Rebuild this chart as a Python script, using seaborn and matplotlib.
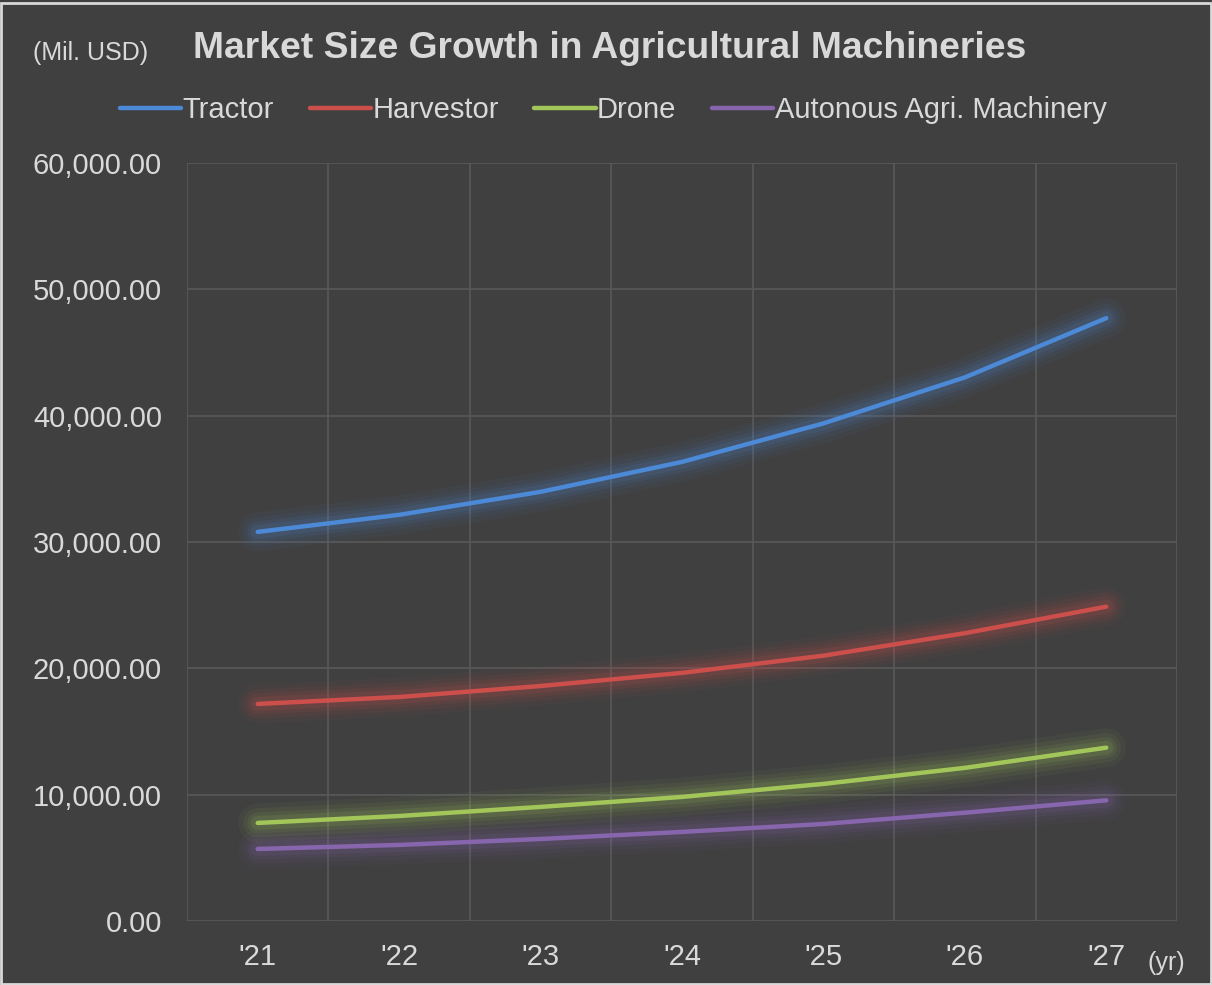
import matplotlib
matplotlib.use("Agg")
import matplotlib.pyplot as plt
import seaborn as sns
import pandas as pd
import numpy as np

# data (Mil. USD)
years = ["'21", "'22", "'23", "'24", "'25", "'26", "'27"]
tractor = [30800, 32150, 33970, 36340, 39390, 43030, 47720]
harvestor = [17180, 17730, 18600, 19640, 21000, 22780, 24880]
drone = [7760, 8310, 9030, 9820, 10850, 12120, 13720]
autonomous = [5700, 6020, 6490, 7050, 7680, 8570, 9550]

series = ["Tractor", "Harvestor", "Drone", "Autonous Agri. Machinery"]
colors = ["#4c89d6", "#cc4f4c", "#a2c659", "#8766ad"]

df = pd.DataFrame({
    "idx": list(range(len(years))) * 4,
    "value": tractor + harvestor + drone + autonomous,
    "series": [s for s in series for _ in years],
})

bg = "#404040"
txt = "#d9d9d9"

sns.set_theme(style="dark")
plt.rcParams["font.family"] = ["Liberation Sans", "DejaVu Sans"]

fig = plt.figure(figsize=(12.12, 9.85), dpi=100, facecolor=bg)
ax = fig.add_axes([0.1543, 0.065, 0.8168, 0.7695])
ax.set_facecolor(bg)

# glow underneath the lines
for s, c in zip(series, colors):
    sub = df[df["series"] == s]
    for lw, a in [(28, 0.05), (21, 0.07), (15, 0.09), (10, 0.12)]:
        ax.plot(sub["idx"], sub["value"], color=c, lw=lw, alpha=a,
                solid_capstyle="round", solid_joinstyle="round", zorder=2)

sns.lineplot(data=df, x="idx", y="value", hue="series", hue_order=series,
             palette=colors, linewidth=3.2, ax=ax, legend=False, zorder=3)
for ln in ax.get_lines():
    ln.set_solid_capstyle("round")

ax.set_xlim(-0.5, len(years) - 0.5)
ax.set_ylim(0, 60000)
ax.set_yticks(np.arange(0, 60001, 10000))
ax.set_yticklabels([f"{v:,.2f}" for v in np.arange(0, 60001, 10000)])
ax.set_xticks(range(len(years)))
ax.set_xticklabels(years)
ax.set_xticks(np.arange(-0.5, len(years), 1), minor=True)
ax.grid(False)
ax.grid(True, which="minor", axis="x", color="#595959", lw=1.2)
ax.grid(True, which="major", axis="y", color="#595959", lw=1.2)
ax.set_axisbelow(True)
ax.tick_params(axis="both", which="both", length=0, colors=txt, labelsize=21)
ax.tick_params(axis="x", pad=16)
ax.tick_params(axis="y", pad=18)
ax.set_xlabel("")
ax.set_ylabel("")
for sp in ax.spines.values():
    sp.set_visible(False)

fig.text(0.027, 0.946, "(Mil. USD)", color=txt, fontsize=18, va="center", ha="left")
fig.text(0.159, 0.951, "Market Size Growth in Agricultural Machineries", color=txt,
         fontsize=26.8, fontweight="bold", va="center", ha="left")
fig.text(0.947, 0.022, "(yr)", color=txt, fontsize=18, va="center", ha="left")

handles = [plt.Line2D([], [], color=c, lw=3.2) for c in colors]
fig.legend(handles, series, loc="center", bbox_to_anchor=(0.506, 0.888), ncol=4,
           frameon=False, fontsize=21, labelcolor=txt, handlelength=2.1,
           handletextpad=0.05, columnspacing=1.22)

# light border around the picture
fig.patches.append(plt.Rectangle((0.001, 0.001), 0.998, 0.996, transform=fig.transFigure,
                                 fill=False, edgecolor="#d9d9d9", lw=2))

fig.savefig("out.png", dpi=100, facecolor=bg)
